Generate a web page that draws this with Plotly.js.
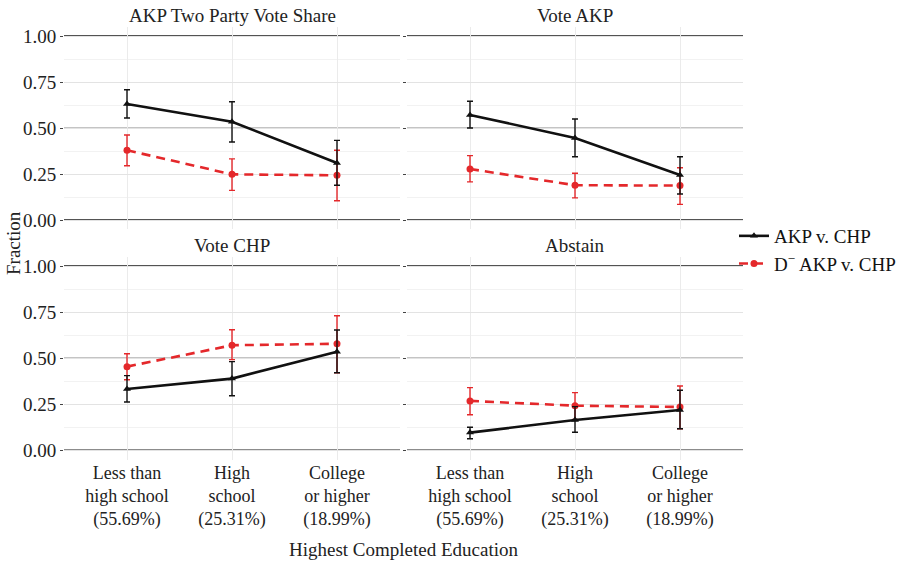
<!DOCTYPE html>
<html>
<head>
<meta charset="utf-8">
<script src="https://cdn.plot.ly/plotly-3.0.1.min.js"></script>
<style>
html,body{margin:0;padding:0;background:#fff}
#chart{width:904px;height:561px}
#chart svg text{font-family:"Liberation Serif","DejaVu Serif",serif !important}
</style>
</head>
<body>
<div id="chart"></div>
<script>
// ---------- data ----------
const categories = ["Less than<br>high school<br>(55.69%)", "High<br>school<br>(25.31%)", "College<br>or higher<br>(18.99%)"];
const panelTitles = ["AKP Two Party Vote Share", "Vote AKP", "Vote CHP", "Abstain"];
const seriesNames = ["AKP v. CHP", "D<sup>\u2212</sup> AKP v. CHP"];
const yTickVals = [0, 0.25, 0.5, 0.75, 1];
const yTickText = ["0.00", "0.25", "0.50", "0.75", "1.00"];

// AKP Two Party Vote Share
const twoParty_akpchp    = [0.630, 0.534, 0.310];
const twoParty_akpchp_lo = [0.554, 0.424, 0.189];
const twoParty_akpchp_hi = [0.708, 0.643, 0.433];
const twoParty_d         = [0.379, 0.248, 0.243];
const twoParty_d_lo      = [0.295, 0.161, 0.105];
const twoParty_d_hi      = [0.462, 0.332, 0.379];

// Vote AKP
const voteAKP_akpchp    = [0.571, 0.446, 0.245];
const voteAKP_akpchp_lo = [0.500, 0.344, 0.141];
const voteAKP_akpchp_hi = [0.645, 0.549, 0.344];
const voteAKP_d         = [0.277, 0.189, 0.187];
const voteAKP_d_lo      = [0.207, 0.120, 0.085];
const voteAKP_d_hi      = [0.350, 0.254, 0.284];

// Vote CHP
const voteCHP_akpchp    = [0.333, 0.389, 0.535];
const voteCHP_akpchp_lo = [0.262, 0.296, 0.421];
const voteCHP_akpchp_hi = [0.405, 0.481, 0.653];
const voteCHP_d         = [0.454, 0.570, 0.578];
const voteCHP_d_lo      = [0.383, 0.492, 0.421];
const voteCHP_d_hi      = [0.524, 0.654, 0.730];

// Abstain
const abstain_akpchp    = [0.096, 0.164, 0.219];
const abstain_akpchp_lo = [0.063, 0.098, 0.117];
const abstain_akpchp_hi = [0.125, 0.237, 0.326];
const abstain_d         = [0.268, 0.242, 0.235];
const abstain_d_lo      = [0.193, 0.168, 0.117];
const abstain_d_hi      = [0.340, 0.313, 0.349];

// reference lines drawn across each panel
const refLineValues = [0, 0.5, 1];

// ---------- build ----------
const FONT = "Liberation Serif";
const FS = 19;
const BLACK = "#111111";
const RED = "#e4282b";

const panels = [
  {a: [twoParty_akpchp, twoParty_akpchp_lo, twoParty_akpchp_hi], d: [twoParty_d, twoParty_d_lo, twoParty_d_hi]},
  {a: [voteAKP_akpchp, voteAKP_akpchp_lo, voteAKP_akpchp_hi], d: [voteAKP_d, voteAKP_d_lo, voteAKP_d_hi]},
  {a: [voteCHP_akpchp, voteCHP_akpchp_lo, voteCHP_akpchp_hi], d: [voteCHP_d, voteCHP_d_lo, voteCHP_d_hi]},
  {a: [abstain_akpchp, abstain_akpchp_lo, abstain_akpchp_hi], d: [abstain_d, abstain_d_lo, abstain_d_hi]}
];

function errY(v, lo, hi, color) {
  return {type: "data", symmetric: false,
    array: v.map((x, i) => hi[i] - x),
    arrayminus: v.map((x, i) => x - lo[i]),
    color: color, thickness: 1.4, width: 3};
}

const traces = [];
panels.forEach((p, k) => {
  const sfx = k === 0 ? "" : String(k + 1);
  traces.push({
    x: categories, y: p.d[0], xaxis: "x" + sfx, yaxis: "y" + sfx,
    type: "scatter", mode: "lines+markers", name: seriesNames[1],
    legendgroup: "d", showlegend: k === 0,
    line: {color: RED, width: 2.6, dash: "9px,6px"},
    marker: {color: RED, symbol: "circle", size: 7},
    error_y: errY(p.d[0], p.d[1], p.d[2], RED)
  });
  traces.push({
    x: categories, y: p.a[0], xaxis: "x" + sfx, yaxis: "y" + sfx,
    type: "scatter", mode: "lines+markers", name: seriesNames[0],
    legendgroup: "a", showlegend: k === 0,
    line: {color: BLACK, width: 2.6},
    marker: {color: BLACK, symbol: "triangle-up", size: 7},
    error_y: errY(p.a[0], p.a[1], p.a[2], BLACK)
  });
});

const W = 904, H = 561;
const xDomains = [[64 / W, 400 / W], [407 / W, 743 / W]];
const yDomains = [[(H - 229.2) / H, (H - 26.8) / H], [(H - 459.5) / H, (H - 256.8) / H]];

const layout = {
  width: W, height: H,
  margin: {l: 0, r: 0, t: 0, b: 0},
  paper_bgcolor: "#ffffff", plot_bgcolor: "#ffffff",
  font: {family: FONT, size: FS, color: "#222"},
  showlegend: true,
  legend: {x: 734 / W, y: (H - 217) / H, xanchor: "left", yanchor: "top",
    traceorder: "reversed", font: {family: FONT, size: FS, color: "#111"},
    bgcolor: "rgba(0,0,0,0)", itemwidth: 30},
  shapes: [], annotations: []
};

for (let k = 0; k < 4; k++) {
  const sfx = k === 0 ? "" : String(k + 1);
  const col = k % 2, row = Math.floor(k / 2);
  layout["xaxis" + sfx] = {
    domain: xDomains[col], anchor: "y" + sfx,
    type: "category", range: [-0.6, 2.6],
    showgrid: true, gridcolor: "#ebebeb", gridwidth: 1,
    showline: false, zeroline: false, ticks: "",
    showticklabels: row === 1,
    tickfont: {family: FONT, size: 18, color: "#222"},
    fixedrange: true
  };
  layout["yaxis" + sfx] = {
    domain: yDomains[row], anchor: "x" + sfx,
    range: [-0.05, 1.05],
    tickvals: yTickVals, ticktext: yTickText,
    showgrid: true, gridcolor: "#e3e3e3", gridwidth: 1,
    minor: {dtick: 0.125, tick0: 0, showgrid: true, gridcolor: "#f2f2f2", gridwidth: 1},
    showline: false, zeroline: false,
    ticks: "outside", ticklen: 3, tickcolor: "#444", tickwidth: 1,
    showticklabels: col === 0,
    tickfont: {family: FONT, size: FS, color: "#222"},
    fixedrange: true
  };
  refLineValues.forEach(v => {
    layout.shapes.push({type: "line", xref: "x" + sfx + " domain", yref: "y" + sfx,
      x0: 0, x1: 1, y0: v, y1: v, layer: "below",
      line: {color: v === 0.5 ? "#8a8a8a" : "#1a1a1a", width: v === 0.5 ? 1.2 : 1.5}});
  });
  layout.annotations.push({
    text: panelTitles[k], xref: "paper", yref: "paper",
    x: (xDomains[col][0] + xDomains[col][1]) / 2, y: yDomains[row][1],
    xanchor: "center", yanchor: "bottom", yshift: -1, showarrow: false,
    font: {family: FONT, size: FS, color: "#222"}
  });
}

layout.annotations.push({
  text: "Highest Completed Education", xref: "paper", yref: "paper",
  x: 403.5 / W, y: (H - 549) / H, xanchor: "center", yanchor: "middle",
  showarrow: false, font: {family: FONT, size: FS, color: "#222"}
});
layout.annotations.push({
  text: "Fraction", xref: "paper", yref: "paper", textangle: -90,
  x: 14 / W, y: (H - 243) / H, xanchor: "center", yanchor: "middle",
  showarrow: false, font: {family: FONT, size: FS, color: "#222"}
});

Plotly.newPlot("chart", traces, layout, {displayModeBar: false, staticPlot: true});
</script>
</body>
</html>
